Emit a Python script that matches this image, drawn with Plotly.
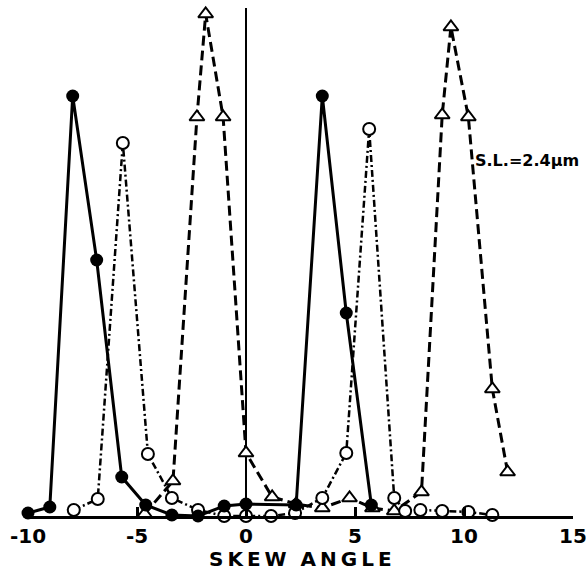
import plotly.graph_objects as go

# Filled circles (solid line)
x_filled = [-10, -9.0, -7.95, -6.85, -5.7, -4.6, -3.4, -2.2, -1.0, 0, 2.3, 3.5, 4.6, 5.75]
y_filled = [0.6, 1.8, 84, 51.2, 7.8, 2.2, 0.2, 0, 2, 2.4, 2.2, 84, 40.6, 2.2]

# Open circles (dash-dot line)
x_open = [-7.9, -6.8, -5.65, -4.5, -3.4, -2.2, -1.0, 0, 1.15, 2.25, 3.5, 4.6, 5.65, 6.8, 7.3, 8.0, 9.0, 10.2, 11.3]
y_open = [1.2, 3.4, 74.6, 12.4, 3.6, 1.2, 0, 0, 0, 0.6, 3.6, 12.6, 77.4, 3.6, 1.0, 1.2, 1.0, 0.8, 0.2]

# Open triangles (dashed line)
x_tri = [-4.65, -3.35, -2.25, -1.85, -1.05, 0, 1.2, 2.3, 3.5, 4.75, 5.8, 6.8, 8.05, 9.0, 9.4, 10.2, 11.3, 12.0]
y_tri = [0.4, 7, 79.8, 100.4, 79.8, 12.6, 3.8, 2.4, 1.6, 3.6, 1.6, 1.0, 4.8, 80.2, 97.8, 79.8, 25.4, 8.8]

x_ticks = [-10, -5, 0, 5, 10, 15]
x_tick_labels = ["-10", "-5", "0", "5", "10", "15"]

FONT = "DejaVu Sans"

fig = go.Figure()

fig.add_trace(go.Scatter(
    x=x_tri, y=y_tri, mode="lines+markers", cliponaxis=False,
    line=dict(color="black", width=3, dash="10px,5px"),
    marker=dict(symbol="triangle-up", size=13, color="white",
                line=dict(color="black", width=2)),
    showlegend=False))

fig.add_trace(go.Scatter(
    x=x_open, y=y_open, mode="lines+markers", cliponaxis=False,
    line=dict(color="black", width=2.5, dash="7px,3px,2px,3px"),
    marker=dict(symbol="circle", size=12, color="white",
                line=dict(color="black", width=2)),
    showlegend=False))

fig.add_trace(go.Scatter(
    x=x_filled, y=y_filled, mode="lines+markers", cliponaxis=False,
    line=dict(color="black", width=3),
    marker=dict(symbol="circle", size=13, color="black"),
    showlegend=False))

fig.add_shape(type="line", x0=0, x1=0, y0=0, y1=101.6, xref="x", yref="y",
              line=dict(color="black", width=2), layer="below")

fig.add_annotation(x=10.4, y=71.2, xref="x", yref="y", text="<b>S.L.=2.4\u03bcm</b>",
                   showarrow=False, xanchor="left", yanchor="middle",
                   font=dict(family=FONT, size=16, color="black"))

fig.add_annotation(x=0.5, y=-0.085, xref="paper", yref="paper",
                   text="<b>S\u2009K\u2009E\u2009W\u2002\u2009A\u2009N\u2009G\u2009L\u2009E</b>",
                   showarrow=False, xanchor="center", yanchor="middle",
                   font=dict(family=FONT, size=20, color="black"))

fig.update_layout(
    width=586, height=571,
    margin=dict(l=28, r=13, t=8, b=55, autoexpand=False),
    plot_bgcolor="white", paper_bgcolor="white",
    xaxis=dict(range=[-10, 15], tickvals=x_ticks, ticktext=x_tick_labels,
               showgrid=False, zeroline=False, showline=True,
               linecolor="black", linewidth=2.5,
               ticks="inside", ticklen=9, tickwidth=2.5, tickcolor="black",
               ticklabeloverflow="allow", automargin=False,
               tickfont=dict(family=FONT, size=20, color="black", weight="bold")),
    yaxis=dict(range=[0, 101.6], visible=False, showgrid=False, zeroline=False),
)

fig.write_html("out.html", config={"displayModeBar": False},
               post_script="document.body.style.margin='0';document.body.style.overflow='hidden';")
